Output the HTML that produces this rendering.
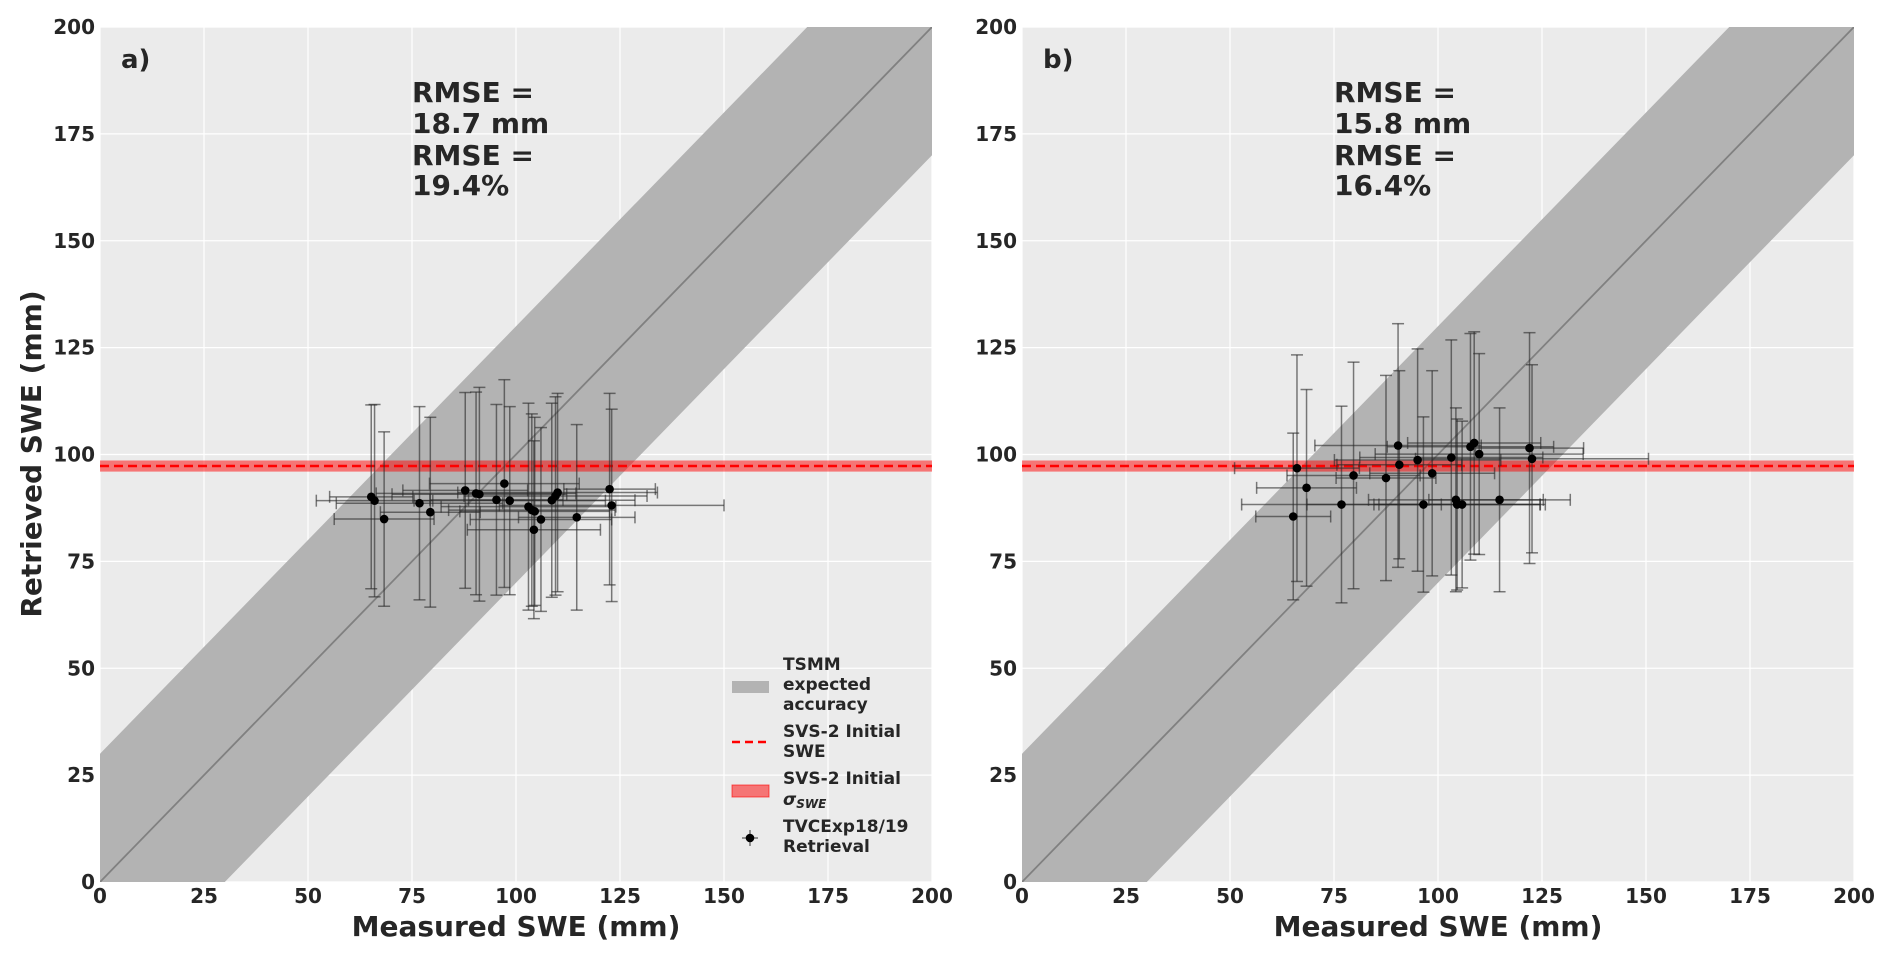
<!DOCTYPE html>
<html><head><meta charset="utf-8"><style>
html,body{margin:0;padding:0;background:#fff;width:1892px;height:958px;overflow:hidden}
svg{display:block;font-family:"DejaVu Sans","Liberation Sans",sans-serif;font-weight:bold}
</style></head><body>
<svg id="chart" width="1892" height="958" viewBox="0 0 1892 958" xmlns="http://www.w3.org/2000/svg"></svg>
<script>
const ticks = [0, 25, 50, 75, 100, 125, 150, 175, 200];
const initialSWE = 97.3;
const initialSigma = 1.3;
const tsmmAccuracy = 30;
// panel a
const aX = [65.2,66,68.3,76.8,79.4,87.8,90.4,91.2,95.3,97.2,98.5,103,103.8,104.3,104.5,106,108.6,109.5,110,114.6,122.5,123];
const aY = [90.1,89.2,84.9,88.6,86.5,91.6,90.9,90.7,89.4,93.2,89.2,87.8,87,82.4,86.7,84.8,89.3,90.3,91.1,85.3,91.9,88.1];
const aYerr = [21.5,22.5,20.4,22.6,22.2,22.9,23.7,25,22.3,24.3,22,24.2,22.5,20.8,22,21.5,22.7,23.2,23.2,21.7,22.4,22.5];
const aXerr = [10,14,12,20,12,15,24,21,16,18,23,21,20,16,18,17,20,22,24,14,11,27];
// panel b
const bX = [65.2,66.1,68.4,76.8,79.7,87.5,90.4,90.7,95.1,96.5,98.6,103.2,104.3,104.6,105.8,107.8,108.7,109.9,114.8,122,122.6];
const bY = [85.5,96.8,92.2,88.3,95.1,94.5,102.1,97.6,98.7,88.3,95.6,99.3,89.4,88.3,88.3,101.8,102.7,100.1,89.4,101.5,99];
const bYerr = [19.5,26.5,23,23,26.5,24,28.5,22,26,20.5,24,27.5,21.5,20,19.5,26.5,26,23.5,21.5,27,22];
const bXerr = [9,15,12,24,16,12,20,15,20,28,15,22,21,20,20,20,16,25,17,13,28];

const NS = "http://www.w3.org/2000/svg";
const svg = document.getElementById("chart");
function mk(tag, attrs, parent, text){
  const e = document.createElementNS(NS, tag);
  for (const k in attrs) e.setAttribute(k, attrs[k]);
  if (text !== undefined) e.textContent = text;
  (parent || svg).appendChild(e);
  return e;
}
const W = 832, H = 855, BOT = 882, TOP = 27;

function panel(left, label, xs, ys, xe, ye, rm1, rm2, legend, pname){
  const g = mk("g", {});
  
  
  const sx = v => left + v / 200 * W;
  const sy = v => BOT - v / 200 * H;
  const clipId = "clip" + pname;
  const cp = mk("clipPath", {id: clipId}, g);
  mk("rect", {x: left, y: TOP, width: W, height: H}, cp);
  const bg = mk("rect", {x: left, y: TOP, width: W, height: H, fill: "#ebebeb"}, g);
  
  
  for (const t of ticks){
    mk("line", {x1: sx(t), x2: sx(t), y1: TOP, y2: BOT, stroke: "#fff", "stroke-width": 1.2}, g);
    mk("line", {x1: left, x2: left + W, y1: sy(t), y2: sy(t), stroke: "#fff", "stroke-width": 1.2}, g);
  }
  const inner = mk("g", {"clip-path": "url(#" + clipId + ")"}, g);
  const band = mk("polygon", {points: [
    [sx(0), sy(tsmmAccuracy)], [sx(200 - tsmmAccuracy), sy(200)], [sx(200), sy(200)],
    [sx(200), sy(200 - tsmmAccuracy)], [sx(tsmmAccuracy), sy(0)], [sx(0), sy(0)]
  ].map(p => p.join(",")).join(" "), fill: "#b3b3b3"}, inner);
  
  
  const one = mk("line", {x1: sx(0), y1: sy(0), x2: sx(200), y2: sy(200), stroke: "#808080", "stroke-width": 1.8}, inner);
  
  
  const sig = mk("rect", {x: left, y: sy(initialSWE + initialSigma), width: W, height: sy(initialSWE - initialSigma) - sy(initialSWE + initialSigma), fill: "rgba(255,0,0,0.5)"}, inner);
  
  
  const dl = mk("line", {x1: left, x2: left + W, y1: sy(initialSWE), y2: sy(initialSWE), stroke: "#ff0000", "stroke-width": 2.5, "stroke-dasharray": "9,5"}, inner);
  
  
  const eb = mk("g", {stroke: "rgba(40,40,40,0.6)", "stroke-width": 1.5}, inner);
  for (let i = 0; i < xs.length; i++){
    const cx = sx(xs[i]), cy = sy(ys[i]);
    const y1 = sy(ys[i] + ye[i]), y2 = sy(ys[i] - ye[i]);
    const x1 = sx(xs[i] - xe[i]), x2 = sx(xs[i] + xe[i]);
    mk("line", {x1: cx, x2: cx, y1: y1, y2: y2}, eb);
    mk("line", {x1: cx - 6, x2: cx + 6, y1: y1, y2: y1}, eb);
    mk("line", {x1: cx - 6, x2: cx + 6, y1: y2, y2: y2}, eb);
    mk("line", {x1: x1, x2: x2, y1: cy, y2: cy}, eb);
    mk("line", {x1: x1, x2: x1, y1: cy - 6, y2: cy + 6}, eb);
    mk("line", {x1: x2, x2: x2, y1: cy - 6, y2: cy + 6}, eb);
  }
  for (let i = 0; i < xs.length; i++){
    const p = mk("circle", {cx: sx(xs[i]), cy: sy(ys[i]), r: 4.3, fill: "#000"}, inner);
    
    
  }
  for (const t of ticks){
    const xl = mk("text", {x: sx(t), y: 903, "text-anchor": "middle", "font-size": 20, fill: "#262626"}, g, String(t));
    
    
    const yl = mk("text", {x: left - 5, y: sy(t) + 7, "text-anchor": "end", "font-size": 20, fill: "#262626"}, g, String(t));
    
    
  }
  const xt = mk("text", {x: left + W / 2, y: 936, "text-anchor": "middle", "font-size": 28, fill: "#262626"}, g, "Measured SWE (mm)");
  
  
  const pl = mk("text", {x: left + 21, y: 68, "font-size": 26, fill: "#262626"}, g, label);
  
  
  const rm = mk("g", {"font-size": 28, fill: "#262626"}, g);
  
  
  const tx = left + 312;
  mk("text", {x: tx, y: 102}, rm, "RMSE =");
  mk("text", {x: tx, y: 133}, rm, rm1);
  mk("text", {x: tx, y: 165}, rm, "RMSE =");
  mk("text", {x: tx, y: 195}, rm, rm2);
  if (legend){
    const lg = mk("g", {"font-size": 17, fill: "#262626"}, g);
    
    
    const lx = left + 683;
    mk("rect", {x: left + 632, y: 681, width: 37, height: 12, fill: "#b3b3b3"}, lg);
    mk("text", {x: lx, y: 670}, lg, "TSMM");
    mk("text", {x: lx, y: 690}, lg, "expected");
    mk("text", {x: lx, y: 710}, lg, "accuracy");
    mk("line", {x1: left + 632, x2: left + 669, y1: 742, y2: 742, stroke: "#ff0000", "stroke-width": 2.5, "stroke-dasharray": "8,5"}, lg);
    mk("text", {x: lx, y: 737}, lg, "SVS-2 Initial");
    mk("text", {x: lx, y: 757}, lg, "SWE");
    mk("rect", {x: left + 632, y: 785, width: 37, height: 12, fill: "rgba(255,0,0,0.5)", stroke: "rgba(255,0,0,0.6)"}, lg);
    mk("text", {x: lx, y: 784}, lg, "SVS-2 Initial");
    const s = mk("text", {x: lx, y: 805, "font-style": "italic"}, lg, "σ");
    mk("tspan", {"font-size": 12, dy: 3}, s, "SWE");
    mk("line", {x1: left + 650, x2: left + 650, y1: 830, y2: 846, stroke: "#555", "stroke-width": 1.2}, lg);
    mk("line", {x1: left + 642, x2: left + 658, y1: 838, y2: 838, stroke: "#555", "stroke-width": 1.2}, lg);
    mk("circle", {cx: left + 650, cy: 838, r: 4.3, fill: "#000"}, lg);
    mk("text", {x: lx, y: 832}, lg, "TVCExp18/19");
    mk("text", {x: lx, y: 852}, lg, "Retrieval");
  }
}
panel(100, "a)", aX, aY, aXerr, aYerr, "18.7 mm", "19.4%", true, "panel-a");
panel(1022, "b)", bX, bY, bXerr, bYerr, "15.8 mm", "16.4%", false, "panel-b");
const yt = mk("text", {x: 0, y: 0, "text-anchor": "middle", "font-size": 28, fill: "#262626", transform: "translate(41,454) rotate(-90)"}, svg, "Retrieved SWE (mm)");


</script>
</body></html>
